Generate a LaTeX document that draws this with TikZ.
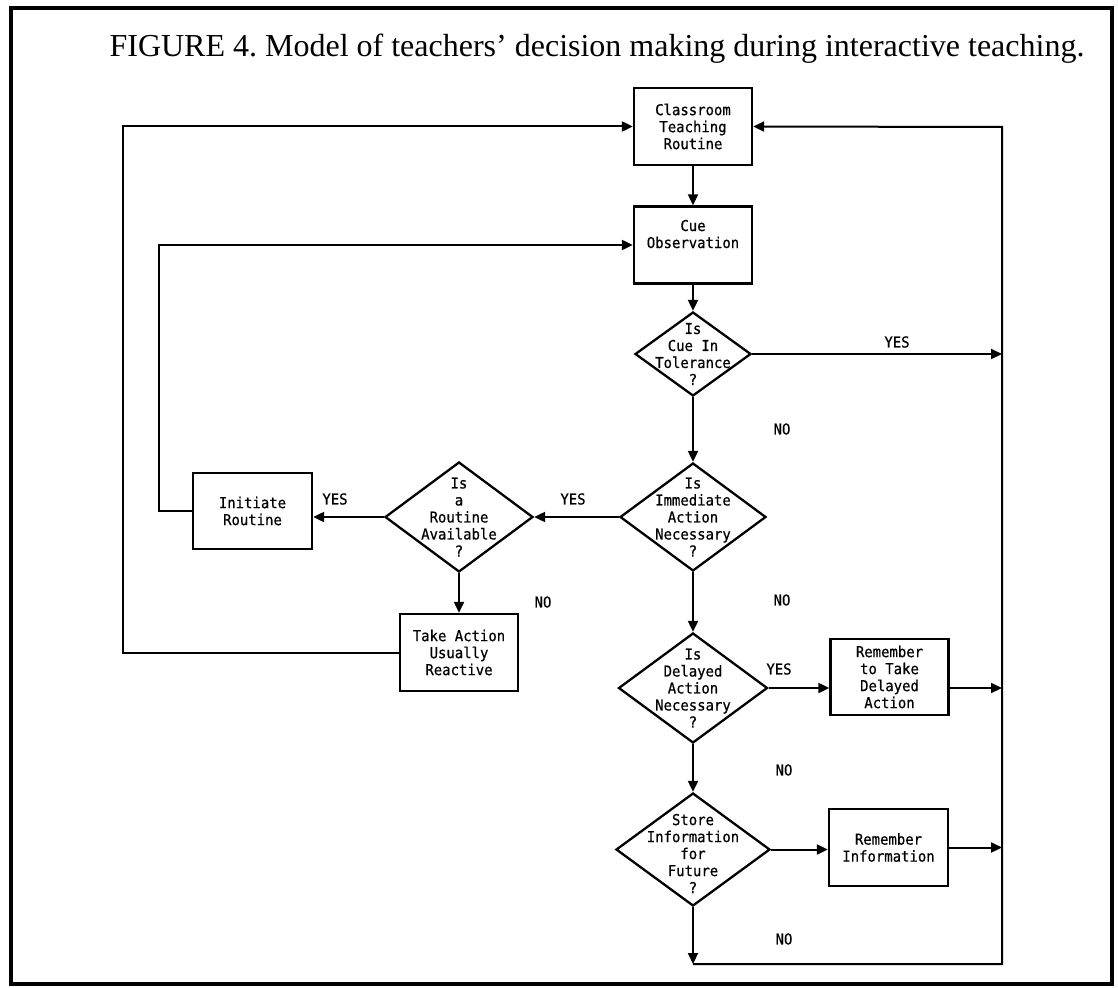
\documentclass[tikz,border=0pt]{standalone}
\usepackage{fontspec}
\setmainfont{Liberation Serif}
\newfontfamily\flowfont[FakeStretch=0.93,FakeBold=0.6]{DejaVu Sans Mono}
\usetikzlibrary{arrows.meta,shapes.geometric}
\begin{document}
\begin{tikzpicture}[x=1pt,y=-1pt,
  >={Triangle[length=11pt,width=10pt]},
  conn/.style={line width=2pt},
  txt/.style={font=\flowfont\fontsize{15}{17}\selectfont, align=center},
  boxnode/.style={draw, line width=2.3pt, rectangle, minimum width=118pt, minimum height=77pt, inner sep=0pt, txt},
  dia/.style={draw, line width=2.3pt, diamond, inner sep=0pt},
  dtext/.style={txt, inner sep=0pt},
  lbl/.style={txt, inner sep=0pt}
]
\useasboundingbox (0,0) rectangle (1118,987);
\draw[line width=3.2pt] (11,8) rectangle (1112,984);
\node[font=\fontsize{32}{36}\selectfont, anchor=base, inner sep=0pt] (cap) at (597,57)
  {FIGURE 4.\ Model of teachers’ decision making during interactive teaching.};

% main column
\node[boxnode] (cls) at (693,126.5) {Classroom\\Teaching\\Routine};
\node[boxnode] (obs) at (693,245) {Cue\\Observation\\\strut};
\node[dia, minimum width=116pt, minimum height=84pt,
  label={[dtext]center:{Is\\Cue In\\Tolerance\\?}}] (d1) at (693,354) {};
\node[dia, minimum width=146pt, minimum height=108pt,
  label={[dtext]center:{Is\\Immediate\\Action\\Necessary\\?}}] (d2) at (693,517) {};
\node[dia, minimum width=149pt, minimum height=110pt,
  label={[dtext]center:{Is\\Delayed\\Action\\Necessary\\?}}] (d4) at (693,688) {};
\node[dia, minimum width=154pt, minimum height=113pt,
  label={[dtext,yshift=-4pt]center:{Store\\Information\\for\\Future\\?}}] (d5) at (693,849.5) {};

% left part
\node[dia, minimum width=148pt, minimum height=110pt,
  label={[dtext]center:{Is\\a\\Routine\\Available\\?}}] (d3) at (459,517) {};
\node[boxnode, minimum width=119pt, minimum height=76pt] (init) at (252.5,511) {Initiate\\Routine};
\node[boxnode] (take) at (459,652.5) {Take Action\\Usually\\Reactive};

% right part
\node[boxnode, minimum height=76pt] (rd) at (889.5,677) {Remember\\to Take\\Delayed\\Action};
\node[boxnode, minimum width=119pt] (ri) at (888.5,847.5) {Remember\\Information};

% helper coordinates
\coordinate (rt) at (1002,127);
\coordinate (rb) at (1002,964);
\coordinate (innerx) at (159,0);
\coordinate (outerx) at (123,0);

% connectors
\draw[conn,->] (cls) -- (obs);
\draw[conn,->] (obs) -- (d1.north);
\draw[conn,->] (d1.south) -- (d2.north);
\draw[conn,->] (d2.south) -- (d4.north);
\draw[conn,->] (d4.south) -- (d5.north);
\draw[conn,->] (d2.west) -- (d3.east);
\draw[conn,->] (d3.west) -- (d3.west -| init.east);
\draw[conn,->] (d3.south) -- (take.north);
\draw[conn,->] (d1.east) -- (d1.east -| rt);
\draw[conn,->] (d4.east) -- (d4.east -| rd.west);
\draw[conn,->] (rd.east |- d4.east) -- (d4.east -| rt);
\draw[conn,->] (d5.east) -- (d5.east -| ri.west);
\draw[conn,->] (ri.east) -- (ri.east -| rt);
\draw[conn,->] (d5.south) -- (d5.south |- rb);
\draw[conn,->] (d5.south |- rb) -- (rb) -- (rt) -- (cls.east);
\draw[conn,->] (init.west) -- (init.west -| innerx) -- (obs.west -| innerx) -- (obs.west);
\draw[conn,->] (take.west) -- (take.west -| outerx) -- (cls.west -| outerx) -- (cls.west);

% labels
\node[lbl] (y1) at (897,342) {YES};
\node[lbl] (y2) at (573,499) {YES};
\node[lbl] (y3) at (335,499) {YES};
\node[lbl] (y4) at (779,669) {YES};
\node[lbl] (n1) at (782,429) {NO};
\node[lbl] (n2) at (543,602) {NO};
\node[lbl] (n3) at (782,600) {NO};
\node[lbl] (n4) at (784,770) {NO};
\node[lbl] (n5) at (784,939) {NO};
\end{tikzpicture}
\end{document}
